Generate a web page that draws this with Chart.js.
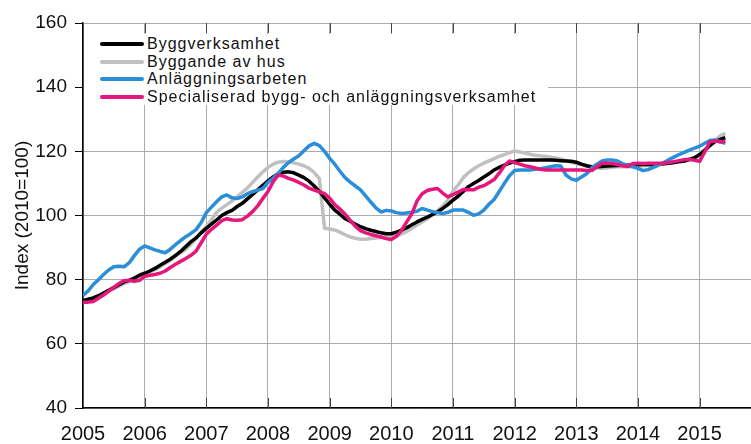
<!DOCTYPE html>
<html>
<head>
<meta charset="utf-8">
<script src="https://cdn.jsdelivr.net/npm/chart.js@4.4.1/dist/chart.umd.min.js"></script>
<style>
  html, body { margin: 0; padding: 0; background: #fff; overflow: hidden; }
  #wrap { position: relative; width: 751px; height: 444px; }
  #legend {
    position: absolute; left: 84px; top: 34px; width: 464px; height: 71px;
    background: #fff;
    font-family: 'Liberation Sans', Arial, sans-serif; font-size: 16px;
    letter-spacing: 1px; color: #111;
  }
  .row { position: absolute; left: 0; height: 18px; line-height: 18px; white-space: nowrap; }
  .swatch { position: absolute; left: 16px; top: 7px; width: 44px; height: 4px; border-radius: 2px; }
  .label { position: absolute; left: 63px; top: 0; }
</style>
</head>
<body>
<div id="wrap">
  <canvas id="chart" width="751" height="444"></canvas>
  <div id="legend"></div>
</div>
<script>
// ── Data (monthly, Jan 2005 – Jun 2015, index 2010=100) ─────────────────────
const startYear = 2005;
const yearTicks = [0, 12, 24, 36, 48, 60, 72, 84, 96, 108, 120]; // months since Jan 2005
const yTicks = [40, 60, 80, 100, 120, 140, 160];
const seriesNames = [
    'Byggverksamhet',
    'Byggande av hus',
    'Anläggningsarbeten',
    'Specialiserad bygg- och anläggningsverksamhet'
];

const byggverksamhet = [
    73.5, 73.9, 74.3, 75.0, 75.8, 76.7, 77.5, 78.4, 79.3, 79.8, 80.5, 81.4,
    82.0, 82.7, 83.5, 84.5, 85.4, 86.4, 87.6, 88.8, 90.3, 91.8, 93.0, 94.6,
    96.0, 97.3, 98.6, 100.0, 100.9, 101.6, 102.8, 103.8, 105.2, 106.6, 108.0, 109.4,
    110.8, 112.0, 113.0, 113.5, 113.6, 113.3, 112.6, 111.8, 110.7, 109.2, 107.5, 105.5,
    103.5, 101.7, 100.4, 99.0, 98.2, 97.3, 96.5, 95.9, 95.4, 95.0, 94.6, 94.3,
    94.3, 94.8, 95.4, 96.2, 97.1, 98.0, 98.8, 99.5, 100.3, 101.1, 102.2, 103.4,
    104.8, 106.0, 107.5, 109.0, 110.0, 110.9, 112.0, 113.0, 114.2, 115.0, 115.7, 116.3,
    116.8, 117.2, 117.3, 117.3, 117.3, 117.3, 117.3, 117.3, 117.2, 117.1, 117.0, 116.9,
    116.6, 116.0, 115.5, 115.2, 115.2, 115.3, 115.4, 115.5, 115.6, 115.7, 115.7, 115.8,
    115.8, 115.9, 115.9, 115.9, 116.0, 116.1, 116.3, 116.5, 116.8, 117.0, 117.5, 118.0,
    119.0, 120.3, 121.8, 123.0, 123.7, 124.3
];

const byggandeAvHus = [
    73.5, 73.7, 74.0, 74.8, 75.5, 76.3, 77.2, 78.0, 78.8, 79.4, 80.2, 81.0,
    81.6, 82.3, 83.1, 84.0, 85.0, 86.0, 87.2, 88.4, 89.5, 91.0, 92.8, 94.8,
    96.6, 98.6, 101.0, 102.3, 103.4, 104.5, 105.8, 107.2, 108.6, 110.3, 112.0, 113.6,
    115.0, 116.0, 116.6, 116.8, 116.7, 116.4, 116.0, 115.5, 114.7, 113.4, 111.5, 96.0,
    95.8, 95.5, 94.8, 94.0, 93.3, 92.9, 92.6, 92.6, 92.8, 93.0, 93.2, 93.3,
    93.3, 93.6, 94.3, 95.0, 96.0, 97.0, 98.0, 99.0, 100.2, 101.5, 102.9, 104.8,
    107.5, 109.5, 111.8, 113.3, 114.5, 115.5, 116.3, 117.0, 117.7, 118.4, 119.0, 119.6,
    120.1, 119.8, 119.5, 119.1, 118.8, 118.6, 118.4, 118.2, 117.9, 117.6, 117.1, 116.6,
    116.2, 115.8, 115.4, 115.0, 114.8, 114.7, 114.8, 115.0, 115.2, 115.2, 115.2, 115.3,
    115.4, 115.5, 115.6, 115.8, 115.9, 116.1, 116.3, 116.5, 116.7, 116.9, 117.3, 117.7,
    119.0, 120.6, 122.0, 123.4, 124.8, 125.6
];

const anlaggningsarbeten = [
    75.1, 76.5, 78.5, 80.0, 81.6, 83.0, 84.0, 84.2, 84.0, 85.3, 87.5, 89.5,
    90.5, 89.9, 89.3, 88.8, 88.4, 89.5, 90.9, 92.2, 93.4, 94.4, 95.6, 97.8,
    100.9, 102.6, 104.3, 105.8, 106.4, 105.5, 105.3, 105.8, 106.8, 107.4, 107.9, 108.4,
    110.3, 111.6, 113.2, 115.0, 116.5, 117.6, 118.6, 120.2, 121.7, 122.5, 121.8, 120.0,
    117.8, 116.0, 113.8, 111.8, 110.4, 109.2, 108.0, 106.1, 104.2, 102.4, 101.1, 101.6,
    101.4, 100.9, 100.6, 100.8, 101.0, 101.3, 102.2, 101.7, 101.2, 100.9, 100.6, 101.0,
    101.7, 101.7, 101.7, 101.0, 100.1, 100.5, 101.7, 103.5, 105.0, 107.5, 110.0, 112.4,
    114.0, 114.2, 114.2, 114.2, 114.4, 114.6, 114.9, 115.2, 115.5, 115.4, 112.6, 111.4,
    111.0, 112.0, 113.0, 114.8, 116.0, 117.0, 117.3, 117.3, 117.0, 116.2, 115.6, 115.2,
    114.7, 114.0, 114.3, 115.0, 115.7, 116.5, 117.4, 118.2, 119.0, 119.7, 120.4, 121.0,
    121.6, 122.5, 123.4, 123.5, 123.0, 122.5
];

const specialiserad = [
    73.0, 73.0, 73.2, 74.2, 75.2, 76.4, 77.6, 78.8, 79.7, 79.8, 79.5, 79.8,
    81.0, 81.4, 81.6, 82.0, 82.7, 83.8, 84.8, 85.7, 86.6, 87.6, 88.9, 91.5,
    94.2, 95.7, 97.0, 98.4, 99.0, 98.6, 98.5, 98.7, 99.8, 101.2, 103.0, 105.3,
    107.5, 110.5, 112.6, 112.3, 111.6, 111.0, 110.3, 109.5, 108.5, 107.9, 107.4, 106.8,
    105.4, 103.4, 102.0, 100.4, 98.5, 96.6, 95.3, 94.6, 94.1, 93.7, 93.3, 92.8,
    92.5, 93.5, 95.4, 98.0, 100.6, 104.5, 106.8, 107.8, 108.2, 108.4, 107.0, 105.8,
    106.5, 107.3, 108.1, 108.0, 108.0, 108.8, 109.3, 110.2, 111.2, 113.2, 115.5, 117.0,
    116.5, 116.0, 115.5, 115.2, 114.8, 114.4, 114.2, 114.2, 114.2, 114.2, 114.2, 114.2,
    114.2, 114.2, 114.0, 114.0, 115.2, 116.3, 116.3, 116.2, 115.9, 115.5, 115.3, 116.2,
    116.3, 116.2, 116.3, 116.3, 116.3, 116.3, 116.5, 116.8, 117.1, 117.4, 117.5, 117.2,
    116.9, 119.8, 123.0, 123.2, 123.0, 123.0
];

const seriesColors = ['#000000', '#c0c0c0', '#2a8fd8', '#e5167c'];
const seriesValues = [byggverksamhet, byggandeAvHus, anlaggningsarbeten, specialiserad];
const drawOrder = [2, 3, 1, 0]; // pink on top, grey at the back

// ── Inside tick marks at top and bottom of the plot ────────────────────────
const innerTicks = {
    id: 'innerTicks',
    beforeDatasetsDraw(chart) {
        const { ctx, chartArea, scales } = chart;
        const x = scales.x;
        ctx.save();
        ctx.strokeStyle = '#444';
        ctx.lineWidth = 1;
        x.ticks.forEach(t => {
            if (t.value === x.min) return;
            const px = Math.round(x.getPixelForValue(t.value)) + 0.5;
            ctx.beginPath();
            ctx.moveTo(px, chartArea.top);
            ctx.lineTo(px, chartArea.top + 10);
            ctx.moveTo(px, chartArea.bottom - 10);
            ctx.lineTo(px, chartArea.bottom);
            ctx.stroke();
        });
        ctx.restore();
    }
};

Chart.defaults.font.family = "'Liberation Sans', Arial, sans-serif";
Chart.defaults.color = '#111';

new Chart(document.getElementById('chart'), {
    type: 'line',
    data: {
        datasets: seriesValues.map((vals, i) => ({
            label: seriesNames[i],
            data: vals.map((v, m) => ({ x: m, y: v })),
            borderColor: seriesColors[i],
            borderWidth: 3.5,
            pointRadius: 0,
            tension: 0,
            fill: false,
            borderJoinStyle: 'round',
            order: drawOrder[i]
        }))
    },
    options: {
        responsive: false,
        animation: false,
        devicePixelRatio: 1,
        layout: { padding: { top: 23, right: 0, left: 0, bottom: 0 } },
        plugins: { legend: { display: false }, tooltip: { enabled: false } },
        scales: {
            x: {
                type: 'linear',
                min: 0,
                max: 130,
                afterFit: s => { s.height = 36; s.paddingRight = 0; },
                afterBuildTicks: s => { s.ticks = yearTicks.map(v => ({ value: v })); },
                grid: { color: '#ababab', lineWidth: 1, drawTicks: false },
                border: { color: '#000', width: 1.5 },
                ticks: {
                    autoSkip: false,
                    maxRotation: 0,
                    padding: 14,
                    font: { size: 20 },
                    callback: v => String(startYear + v / 12)
                }
            },
            y: {
                min: yTicks[0],
                max: yTicks[yTicks.length - 1],
                afterFit: s => { s.width = 83; },
                afterBuildTicks: s => { s.ticks = yTicks.map(v => ({ value: v })); },
                grid: { color: '#ababab', lineWidth: 1, tickLength: 8, tickColor: '#000' },
                border: { color: '#000', width: 1.5 },
                ticks: { padding: 8, font: { size: 19 } },
                title: {
                    display: true,
                    text: 'Index (2010=100)',
                    font: { size: 19 },
                    padding: { top: 11, bottom: 0 }
                }
            }
        }
    },
    plugins: [innerTicks]
});

// ── HTML legend inside the plot ────────────────────────────────────────────
const legendEl = document.getElementById('legend');
const rowCentres = [10, 27.5, 45, 62.5];
seriesNames.forEach((name, i) => {
    const row = document.createElement('div');
    row.className = 'row';
    row.style.top = (rowCentres[i] - 9) + 'px';
    row.innerHTML = '<div class="swatch" style="background:' + seriesColors[i] + '"></div>' +
        '<span class="label">' + name + '</span>';
    legendEl.appendChild(row);
});
</script>
</body>
</html>
